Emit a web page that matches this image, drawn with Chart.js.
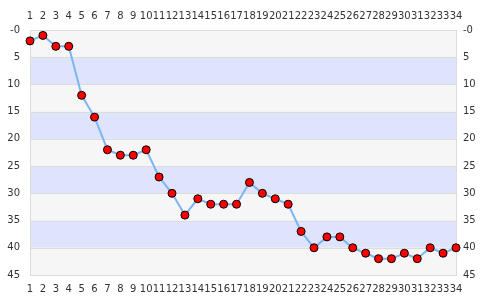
<!DOCTYPE html>
<html>
<head>
<meta charset="UTF-8">
<title>Chart</title>
<script src="https://cdn.jsdelivr.net/npm/chart.js"></script>
<style>
    html, body { margin: 0; padding: 0; background: #fff; }
    #wrap { width: 485px; height: 300px; }
</style>
</head>
<body>
<div id="wrap"><canvas id="chart"></canvas></div>
<script>
    const labels = ['1','2','3','4','5','6','7','8','9','10','11','12','13','14','15','16','17',
                    '18','19','20','21','22','23','24','25','26','27','28','29','30','31','32','33','34'];
    const values = [2, 1, 3, 3, 12, 16, 22, 23, 23, 22, 27, 30, 34, 31, 32, 32, 32,
                    28, 30, 31, 32, 37, 40, 38, 38, 40, 41, 42, 42, 41, 42, 40, 41, 40];
    const yMin = 0, yMax = 45, yStep = 5;

    // alternating bands behind the plot
    const bands = {
        id: 'bands',
        beforeDatasetsDraw(chart) {
            const { ctx, chartArea: a, scales: { y } } = chart;
            ctx.save();
            for (let v = yMin, i = 0; v < yMax; v += yStep, i++) {
                const y1 = y.getPixelForValue(v), y2 = y.getPixelForValue(v + yStep);
                ctx.fillStyle = i % 2 ? '#dde4fc' : '#f6f6f6';
                ctx.fillRect(a.left, Math.min(y1, y2), a.right - a.left, Math.abs(y2 - y1));
            }
            ctx.strokeStyle = '#dcdcdc';
            ctx.lineWidth = 1;
            for (let v = yMin + yStep; v < yMax; v += yStep) {
                const py = Math.round(y.getPixelForValue(v)) + 0.5;
                ctx.beginPath(); ctx.moveTo(a.left, py); ctx.lineTo(a.right, py); ctx.stroke();
            }
            ctx.strokeRect(Math.round(a.left) + 0.5, Math.round(a.top) + 0.5,
                           Math.round(a.right - a.left), Math.round(a.bottom - a.top));
            ctx.restore();
        }
    };

    const tickFont = { family: 'DejaVu Sans', size: 10 };
    const tickColor = '#333';
    const noGrid = { display: false, drawTicks: false };

    new Chart(document.getElementById('chart'), {
        type: 'line',
        data: {
            labels: labels,
            datasets: [{
                data: values,
                borderColor: '#7cb5f2',
                borderWidth: 2,
                pointBackgroundColor: '#ff0000',
                pointBorderColor: '#000',
                pointBorderWidth: 1,
                pointRadius: 4,
                tension: 0,
                clip: false
            }]
        },
        options: {
            responsive: true,
            maintainAspectRatio: false,
            animation: false,
            layout: { padding: 0 },
            plugins: { legend: { display: false }, tooltip: { enabled: false } },
            scales: {
                x: {
                    position: 'bottom', offset: false, grid: noGrid, border: { display: false },
                    ticks: { font: tickFont, color: tickColor, autoSkip: false, maxRotation: 0, padding: 8 },
                    afterFit: s => { s.height = 25; }
                },
                x2: {
                    position: 'top', offset: false, labels: labels, grid: noGrid, border: { display: false },
                    ticks: { font: tickFont, color: tickColor, autoSkip: false, maxRotation: 0, padding: 8 },
                    afterFit: s => { s.height = 30; }
                },
                y: {
                    position: 'left', reverse: true, min: yMin, max: yMax, grid: noGrid, border: { display: false },
                    ticks: { stepSize: yStep, font: tickFont, color: tickColor, padding: 10,
                             callback: v => v === 0 ? '-0' : v },
                    afterFit: s => { s.width = 30; }
                },
                y2: {
                    position: 'right', reverse: true, min: yMin, max: yMax, grid: noGrid, border: { display: false },
                    ticks: { stepSize: yStep, font: tickFont, color: tickColor, padding: 7,
                             callback: v => v === 0 ? '-0' : v },
                    afterFit: s => { s.width = 29; }
                }
            }
        },
        plugins: [bands]
    });
</script>
</body>
</html>
